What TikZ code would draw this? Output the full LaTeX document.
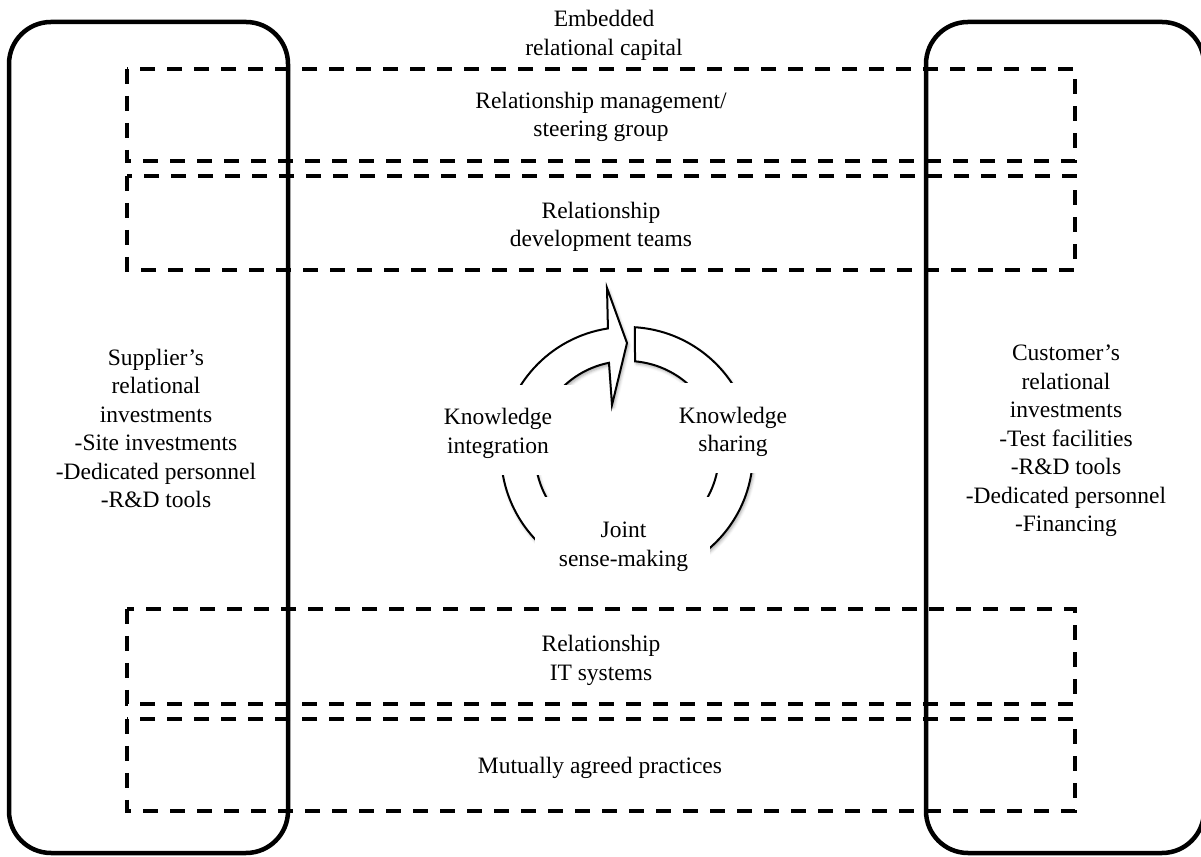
\documentclass[tikz,border=0pt]{standalone}
\usepackage{fontspec}
\setmainfont{Liberation Serif}
\usetikzlibrary{calc,shadows.blur}
\begin{document}
\begin{tikzpicture}[x=1pt,y=1pt,
  party/.style={line width=4.5pt, rounded corners=42pt},
  layer/.style={line width=4pt, dash pattern=on 15pt off 12pt},
  lbl/.style={font=\fontsize{23.5}{28.5}\selectfont, align=center, inner sep=0pt},
  cyclearrow/.style={line width=2pt, fill=white, line join=miter,
    blur shadow={shadow xshift=1.5pt, shadow yshift=-2.5pt, shadow blur radius=3pt, shadow opacity=35}},
  labelmask/.style={fill=white}]
\useasboundingbox (0,0) rectangle (1201,856);
\clip (0,0) rectangle (1201,856);

% the two partners
\draw[party] (9,3) rectangle (288,834);
\draw[party] (926,3) rectangle (1204,834);

% shared layers of relational capital
\draw[layer] (127,787) rectangle (1075,695);
\draw[layer] (127,680) rectangle (1075,586);
\draw[layer] (127,247) rectangle (1075,152);
\draw[layer] (127,137) rectangle (1075,45);

% knowledge cycle
\coordinate (C) at (627,403);
\coordinate (ht) at (607,568);
\coordinate (tip) at (627,513);
\coordinate (hb) at (612,451);
\draw[cyclearrow] ($(C)+(86.4:126)$) arc[start angle=86.4, end angle=-261.3, radius=126]
  -- (ht) -- (tip) -- (hb) -- ($(C)+(101.3:92)$)
  arc[start angle=101.3, end angle=445, radius=92] -- cycle;

% white fields behind the cycle labels
\fill[labelmask] (440,381) rectangle (575,471);
\fill[labelmask] (665,383) rectangle (805,473);
\fill[labelmask] (535,256) rectangle (710,359);

% texts
\node[lbl] (cap) at (604,820.5) {Embedded\\relational capital};
\node[lbl] (mgmt) at (601,739) {Relationship management/\\steering group};
\node[lbl] (dev) at (601,629) {Relationship\\development teams};
\node[lbl] (it) at (601,195.5) {Relationship\\IT systems};
\node[lbl] (prac) at (600,88.5) {Mutually agreed practices};
\node[lbl] (sup) at (156,427.3) {Supplier’s\\relational\\investments\\-Site investments\\-Dedicated personnel\\-R\&D tools};
\node[lbl] (cust) at (1066,415) {Customer’s\\relational\\investments\\-Test facilities\\-R\&D tools\\-Dedicated personnel\\-Financing};
\node[lbl] (integ) at (498,422.5) {Knowledge\\integration};
\node[lbl] (share) at (733,424) {Knowledge\\sharing};
\node[lbl] (joint) at (623.5,309) {Joint\\sense-making};
\end{tikzpicture}
\end{document}
